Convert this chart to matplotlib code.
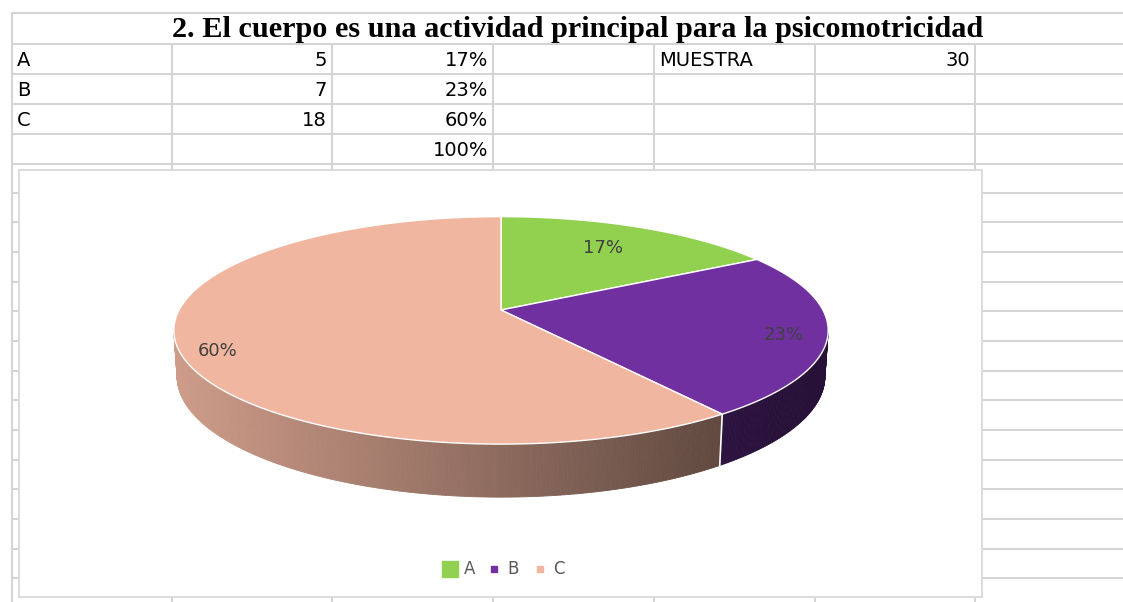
import matplotlib.pyplot as plt
import numpy as np
from matplotlib.patches import Polygon, Rectangle

TITLE = '2. El cuerpo es una actividad principal para la psicomotricidad'
CATEGORIES = ['A', 'B', 'C']
COUNTS = [5, 7, 18]
SAMPLE_LABEL = 'MUESTRA'
SAMPLE = 30
COLORS = ['#92D050', '#7030A0', '#F1B6A0']

W, H = 1123, 602
COL_X = [12, 172, 332, 493, 654, 815, 975]
ROW_Y = [13, 44, 74, 104, 134, 164, 193, 222, 252, 282, 311, 341, 371,
         400, 430, 460, 489, 519, 549, 578]
GRID = '#D4D4D4'
TXT = '#000000'

# perspective camera for the 3d pie (screen pixels)
CX, CY = 501, 310
DIST, ELEV, FOCAL, THICK = 5.25, np.radians(20), 1690, 0.15
LABEL_R = [0.70, 0.87, 0.88]
LABEL_DY = [-2, 4, 10]


def project(x, y, z):
    s, c = np.sin(ELEV), np.cos(ELEV)
    depth = DIST - (y * s + z * c)
    u = FOCAL * np.asarray(x) / depth
    v = FOCAL * (np.asarray(z) * s - np.asarray(y) * c) / depth
    return CX + u, CY + v


def rim(th, y=0.0):
    th = np.radians(th)
    return project(np.cos(th), y * np.ones_like(th), -np.sin(th))


fig = plt.figure(figsize=(W / 100, H / 100), dpi=100)
ax = fig.add_axes([0, 0, 1, 1])
ax.set_xlim(0, W)
ax.set_ylim(H, 0)
ax.axis('off')

# spreadsheet grid
lw = 1.45
for y in ROW_Y:
    ax.plot([COL_X[0], W], [y, y], color=GRID, lw=lw, zorder=1)
ax.plot([COL_X[0], COL_X[0]], [ROW_Y[0], H], color=GRID, lw=lw, zorder=1)
for x in COL_X[1:]:
    ax.plot([x, x], [ROW_Y[1], H], color=GRID, lw=lw, zorder=1)

ax.text(578, (ROW_Y[0] + ROW_Y[1]) / 2 + 1, TITLE, ha='center', va='center',
        fontsize=21.8, fontweight='bold', family='Liberation Serif', color=TXT)

total = sum(COUNTS)
pcts = [round(100 * c / total) for c in COUNTS]
tfont = dict(fontsize=14, family='DejaVu Sans', color=TXT, va='center')
for i, (cat, n, p) in enumerate(zip(CATEGORIES, COUNTS, pcts)):
    yc = (ROW_Y[i + 1] + ROW_Y[i + 2]) / 2 + 1
    ax.text(COL_X[0] + 5, yc, cat, ha='left', **tfont)
    ax.text(COL_X[2] - 5, yc, str(n), ha='right', **tfont)
    ax.text(COL_X[3] - 5, yc, f'{p}%', ha='right', **tfont)
ax.text(COL_X[3] - 5, (ROW_Y[4] + ROW_Y[5]) / 2 + 1, f'{sum(pcts)}%', ha='right', **tfont)
yc = (ROW_Y[1] + ROW_Y[2]) / 2 + 1
ax.text(COL_X[4] + 5, yc, SAMPLE_LABEL, ha='left', **tfont)
ax.text(COL_X[6] - 5, yc, str(SAMPLE), ha='right', **tfont)

# chart area
ax.add_patch(Rectangle((19, 170), 963, 427, facecolor='white',
                       edgecolor='#D9D9D9', lw=1.3, zorder=2))

# slice angles: start at 12 o'clock, clockwise
bounds = 90 - 360 * np.concatenate([[0], np.cumsum(COUNTS)]) / total
edge_a = np.degrees(np.arcsin(1 / (DIST * np.cos(ELEV))))
vis_lo, vis_hi = -180 + edge_a, -edge_a


def shade(col, xs):
    t = (np.mean(xs) - (CX - 330)) / 660
    f = np.clip(0.86 - 0.55 * t, 0.35, 1)
    return np.array(plt.matplotlib.colors.to_rgb(col)) * f


# outer side walls, shaded left to right
for i in range(len(COUNTS)):
    a0, a1 = bounds[i], bounds[i + 1]
    lo, hi = max(min(a0, a1), vis_lo), min(max(a0, a1), vis_hi)
    if lo >= hi:
        continue
    ths = np.linspace(lo, hi, max(3, int((hi - lo) * 2)))
    for j in range(len(ths) - 1):
        tt = np.array([ths[j], ths[j + 1]])
        xt, yt = rim(tt)
        xb, yb = rim(tt, -THICK)
        xs = [xt[0], xt[1], xb[1], xb[0]]
        ys = [yt[0], yt[1], yb[1], yb[0]]
        c = shade(COLORS[i], xs)
        ax.add_patch(Polygon(np.column_stack([xs, ys]), closed=True,
                             facecolor=c, edgecolor=c, lw=0.6, zorder=3))

# white seams on the side at slice boundaries
for b in bounds:
    bb = ((b + 180) % 360) - 180
    if vis_lo < bb < vis_hi:
        xt, yt = rim(np.array([bb]))
        xb, yb = rim(np.array([bb]), -THICK)
        ax.plot([xt[0], xb[0]], [yt[0], yb[0]], color='white', lw=1.2, zorder=4)

# top faces
for i in range(len(COUNTS)):
    ths = np.linspace(bounds[i], bounds[i + 1], 200)
    xr, yr = rim(ths)
    pts = np.vstack([[CX, CY], np.column_stack([xr, yr])])
    ax.add_patch(Polygon(pts, closed=True, facecolor=COLORS[i],
                         edgecolor='white', lw=1.0, zorder=5))

# data labels
for i, p in enumerate(pcts):
    mid = np.radians((bounds[i] + bounds[i + 1]) / 2)
    r = LABEL_R[i]
    lx, ly = project(r * np.cos(mid), 0.0, -r * np.sin(mid))
    ax.text(lx, ly + LABEL_DY[i], f'{p}%', ha='center', va='center', fontsize=13,
            family='DejaVu Sans', color='#404040', zorder=6)

# legend
leg_x = [450, 494, 540]
leg_size = [11.5, 4.3, 4.3]
for i, cat in enumerate(CATEGORIES):
    ax.plot(leg_x[i], 569, marker='s', ms=leg_size[i], color=COLORS[i],
            mec=COLORS[i], zorder=6)
    ax.text(leg_x[i] + (14 if i == 0 else 13), 569, cat, ha='left',
            va='center', fontsize=12, family='DejaVu Sans', color='#595959', zorder=6)

fig.savefig('out.png', dpi=100)
